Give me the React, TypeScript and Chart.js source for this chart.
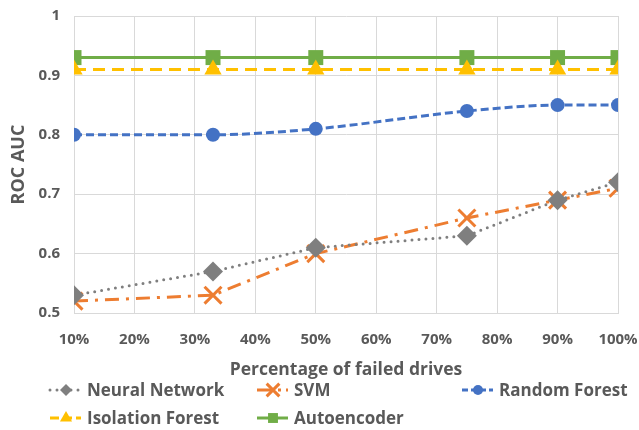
import React, { useEffect, useRef } from "react";
import { Chart, registerables } from "chart.js";

Chart.register(...registerables);

const xValues = [10, 33, 50, 75, 90, 100];
const neuralNetwork = [0.53, 0.57, 0.61, 0.63, 0.69, 0.72];
const svm = [0.52, 0.53, 0.6, 0.66, 0.69, 0.71];
const randomForest = [0.8, 0.8, 0.81, 0.84, 0.85, 0.85];
const isolationForest = [0.91, 0.91, 0.91, 0.91, 0.91, 0.91];
const autoencoder = [0.93, 0.93, 0.93, 0.93, 0.93, 0.93];
const seriesNames = ["Neural Network", "SVM", "Random Forest", "Isolation Forest", "Autoencoder"];
const xTitle = "Percentage of failed drives";
const yTitle = "ROC AUC";

const FONT = "'Open Sans', sans-serif";
const TEXT = "#595959";
const GRID = "#D9D9D9";

function pts(vals: number[]) {
  return vals.map((y, i) => ({ x: xValues[i], y }));
}

const legendPlugin = {
  id: "customLegend",
  afterDraw(chart: any) {
    const ctx = chart.ctx;
    const cols = [50, 257, 462];
    const rows = [390, 418];
    chart.data.datasets.forEach((ds: any, i: number) => {
      const x0 = cols[i % 3];
      const y = rows[Math.floor(i / 3)];
      ctx.save();
      ctx.strokeStyle = ds.borderColor;
      ctx.lineWidth = ds.borderWidth;
      ctx.lineCap = ds.borderCapStyle || "butt";
      ctx.setLineDash(ds.legendDash || []);
      ctx.beginPath();
      ctx.moveTo(x0, y);
      ctx.lineTo(x0 + 31, y);
      ctx.stroke();
      ctx.restore();
      ctx.save();
      ctx.fillStyle = ds.pointBackgroundColor;
      ctx.strokeStyle = ds.pointBorderColor;
      ctx.lineWidth = ds.legendPointBorder;
      const cx = x0 + 16;
      const r = ds.legendRadius;
      ctx.beginPath();
      const style = ds.pointStyle;
      if (style === "rectRot") {
        ctx.moveTo(cx - r, y); ctx.lineTo(cx, y - r); ctx.lineTo(cx + r, y); ctx.lineTo(cx, y + r); ctx.closePath();
        ctx.fill();
      } else if (style === "crossRot") {
        const o = r * Math.SQRT1_2;
        ctx.moveTo(cx - o, y - o); ctx.lineTo(cx + o, y + o);
        ctx.moveTo(cx + o, y - o); ctx.lineTo(cx - o, y + o);
        ctx.stroke();
      } else if (style === "circle") {
        ctx.arc(cx, y, r, 0, Math.PI * 2); ctx.fill();
      } else if (style === "triangle") {
        ctx.moveTo(cx, y - r); ctx.lineTo(cx + r * 0.866, y + r / 2); ctx.lineTo(cx - r * 0.866, y + r / 2); ctx.closePath(); ctx.fill();
      } else if (style === "rect") {
        const s = r * Math.SQRT1_2;
        ctx.rect(cx - s, y - s, 2 * s, 2 * s); ctx.fill();
      }
      ctx.restore();
      ctx.save();
      ctx.fillStyle = TEXT;
      ctx.font = `bold 17px ${FONT}`;
      ctx.textBaseline = "middle";
      ctx.textAlign = "left";
      ctx.fillText(ds.label, x0 + 37, y + 1);
      ctx.restore();
    });
  },
};

export default function App() {
  const ref = useRef<HTMLCanvasElement>(null);
  useEffect(() => {
    document.body.style.margin = "0";
    const common = { borderWidth: 3, pointBorderWidth: 0, fill: false };
    const chart = new Chart(ref.current!, {
      type: "line",
      data: {
        datasets: [
          {
            ...common,
            label: seriesNames[0],
            data: pts(neuralNetwork),
            borderColor: "#7F7F7F",
            backgroundColor: "#7F7F7F",
            pointBackgroundColor: "#7F7F7F",
            pointBorderColor: "#7F7F7F",
            borderDash: [0, 7],
            borderCapStyle: "round",
            pointStyle: "rectRot",
            pointRadius: 10,
            legendDash: [0, 7],
            legendRadius: 6,
            legendPointBorder: 0,
          } as any,
          {
            ...common,
            label: seriesNames[1],
            data: pts(svm),
            borderColor: "#ED7D31",
            backgroundColor: "#ED7D31",
            pointBackgroundColor: "#ED7D31",
            pointBorderColor: "#ED7D31",
            borderDash: [14, 7, 3, 7],
            pointStyle: "crossRot",
            pointRadius: 12,
            pointBorderWidth: 3,
            legendDash: [16, 5, 3, 5],
            legendRadius: 9,
            legendPointBorder: 3,
          } as any,
          {
            ...common,
            label: seriesNames[2],
            data: pts(randomForest),
            borderColor: "#4472C4",
            backgroundColor: "#4472C4",
            pointBackgroundColor: "#4472C4",
            pointBorderColor: "#4472C4",
            borderDash: [8, 4],
            pointStyle: "circle",
            pointRadius: 7,
            cubicInterpolationMode: "monotone",
            legendDash: [6, 3],
            legendRadius: 5,
            legendPointBorder: 0,
          } as any,
          {
            ...common,
            label: seriesNames[3],
            data: pts(isolationForest),
            borderColor: "#FFC000",
            backgroundColor: "#FFC000",
            pointBackgroundColor: "#FFC000",
            pointBorderColor: "#FFC000",
            borderDash: [12, 7],
            pointStyle: "triangle",
            pointRadius: 10,
            legendDash: [9, 4],
            legendRadius: 7,
            legendPointBorder: 0,
          } as any,
          {
            ...common,
            label: seriesNames[4],
            data: pts(autoencoder),
            borderColor: "#70AD47",
            backgroundColor: "#70AD47",
            pointBackgroundColor: "#70AD47",
            pointBorderColor: "#70AD47",
            pointStyle: "rect",
            pointRadius: 10.6,
            legendDash: [],
            legendRadius: 7,
            legendPointBorder: 0,
          } as any,
        ],
      },
      options: {
        animation: false,
        responsive: false,
        maintainAspectRatio: false,
        layout: { padding: { top: 16, right: 21, bottom: 49, left: 0 } },
        plugins: { legend: { display: false }, tooltip: { enabled: false } },
        scales: {
          x: {
            type: "linear",
            min: 10,
            max: 100,
            afterFit: (s: any) => {
              s.height = 68;
              s.paddingLeft = 0;
              s.paddingRight = 0;
            },
            ticks: {
              stepSize: 10,
              padding: 18,
              color: TEXT,
              font: { family: FONT, size: 15, weight: "bold" },
              callback: (v: any) => `${v}%`,
              maxRotation: 0,
            },
            grid: { color: GRID, lineWidth: 1, drawTicks: false },
            border: { color: GRID },
            title: {
              display: true,
              text: xTitle,
              color: TEXT,
              font: { family: FONT, size: 17.5, weight: "bold" },
              padding: { top: 0, bottom: 0 },
            },
          },
          y: {
            min: 0.5,
            max: 1,
            afterFit: (s: any) => {
              s.width = 74;
              s.paddingTop = 0;
              s.paddingBottom = 0;
            },
            ticks: {
              stepSize: 0.1,
              padding: 14,
              color: TEXT,
              font: { family: FONT, size: 15, weight: "bold" },
              callback: (v: any) => (Math.abs(v - 1) < 1e-9 ? "1" : Number(v).toFixed(1)),
            },
            grid: { color: GRID, lineWidth: 1, drawTicks: false },
            border: { color: GRID },
            title: {
              display: true,
              text: yTitle,
              color: TEXT,
              font: { family: FONT, size: 18, weight: "bold" },
              padding: { top: 8, bottom: 0 },
            },
          },
        },
      } as any,
      plugins: [legendPlugin],
    });
    return () => chart.destroy();
  }, []);
  return (
    <div style={{ width: 639, height: 430, background: "#fff" }}>
      <canvas ref={ref} width={639} height={430} style={{ display: "block" }} />
    </div>
  );
}
